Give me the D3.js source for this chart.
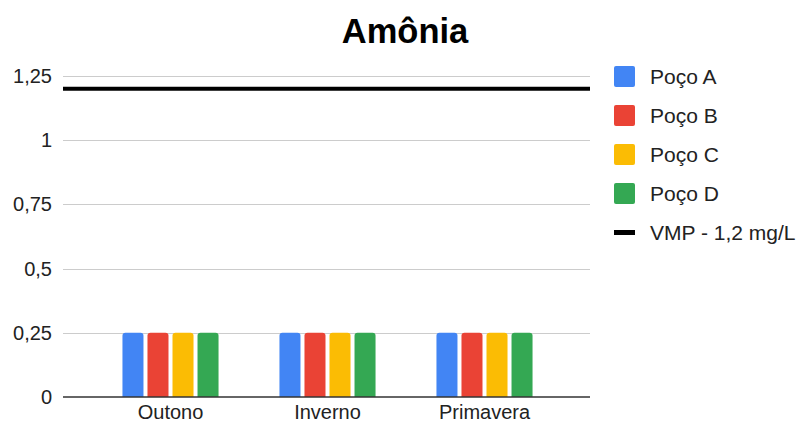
<!DOCTYPE html>
<html>
<head>
<meta charset="utf-8">
<script src="https://cdn.jsdelivr.net/npm/d3@7"></script>
<style>
  html, body { margin: 0; padding: 0; background: #fff; }
  svg text { font-family: "Liberation Sans", Arial, sans-serif; fill: #222; }
</style>
</head>
<body>
<svg id="chart" width="801" height="423"></svg>
<script>
// Ammonia concentration per well and season
const seasons = ["Outono", "Inverno", "Primavera"];
const wells = ["Poço A", "Poço B", "Poço C", "Poço D"];
const wellColors = ["#4285F4", "#EA4335", "#FBBC04", "#34A853"];
const pocoA = [0.25, 0.25, 0.25];
const pocoB = [0.25, 0.25, 0.25];
const pocoC = [0.25, 0.25, 0.25];
const pocoD = [0.25, 0.25, 0.25];
const vmpValue = 1.2;
const vmpLabel = "VMP - 1,2 mg/L";
const yTicks = [0, 0.25, 0.5, 0.75, 1, 1.25];
const yTickLabels = ["0", "0,25", "0,5", "0,75", "1", "1,25"];
const title = "Amônia";

const series = [pocoA, pocoB, pocoC, pocoD];

const svg = d3.select("#chart");
const plotLeft = 63, plotRight = 590, plotTop = 76, plotBottom = 397;

const y = d3.scaleLinear().domain([0, 1.25]).range([plotBottom, plotTop]);
const x0 = d3.scaleBand().domain(seasons).range([92, 563]).paddingInner(0).paddingOuter(0);
const x1 = d3.scaleBand().domain(wells).range([x0.bandwidth() * 0.194, x0.bandwidth() * 0.806]).paddingInner(0.16);

// Title
svg.append("text")
  .attr("x", 405).attr("y", 43)
  .attr("text-anchor", "middle")
  .style("font-size", "34.5px").style("font-weight", "bold").style("fill", "#000")
  .text(title);

// Gridlines
svg.append("g").selectAll("line")
  .data(yTicks.slice(1))
  .join("line")
  .attr("x1", plotLeft).attr("x2", plotRight)
  .attr("y1", d => Math.round(y(d)) + 0.5).attr("y2", d => Math.round(y(d)) + 0.5)
  .attr("stroke", "#cccccc").attr("stroke-width", 1);

// Y axis labels
const yAxis = d3.axisLeft(y).tickValues(yTicks)
  .tickFormat((d, i) => yTickLabels[i]).tickSize(0).tickPadding(0);
const yg = svg.append("g").attr("transform", `translate(${52},0)`).call(yAxis);
yg.select(".domain").remove();
yg.selectAll("text").style("font-size", "20px").style("fill", "#222").attr("font-family", null);

// Bars with rounded tops
function barPath(x, w, yTop, yBase, r) {
  r = Math.min(r, w / 2, (yBase - yTop));
  return `M${x},${yBase}V${yTop + r}Q${x},${yTop} ${x + r},${yTop}H${x + w - r}Q${x + w},${yTop} ${x + w},${yTop + r}V${yBase}Z`;
}
const groups = svg.append("g").selectAll("g")
  .data(seasons)
  .join("g")
  .attr("transform", d => `translate(${x0(d)},0)`);
groups.selectAll("path")
  .data((d, i) => wells.map((w, j) => ({ well: w, value: series[j][i], color: wellColors[j] })))
  .join("path")
  .attr("d", d => barPath(x1(d.well), x1.bandwidth(), y(d.value), y(0), 3))
  .attr("fill", d => d.color);

// Baseline
svg.append("line")
  .attr("x1", plotLeft).attr("x2", plotRight)
  .attr("y1", y(0)).attr("y2", y(0))
  .attr("stroke", "#333").attr("stroke-width", 1.3);

// VMP reference line
svg.append("line")
  .attr("x1", plotLeft).attr("x2", plotRight)
  .attr("y1", y(vmpValue)).attr("y2", y(vmpValue))
  .attr("stroke", "#000").attr("stroke-width", 4);

// X axis labels
const xAxis = d3.axisBottom(x0).tickSize(0).tickPadding(0);
const xg = svg.append("g").attr("transform", `translate(0,${404.5})`).call(xAxis);
xg.select(".domain").remove();
xg.selectAll("text").style("font-size", "20px").style("fill", "#222").attr("font-family", null);

// Legend
const legend = svg.append("g").attr("transform", "translate(614,76.5)");
const items = wells.map((w, i) => ({ label: w, color: wellColors[i], type: "box" }))
  .concat([{ label: vmpLabel, color: "#000", type: "line" }]);
const li = legend.selectAll("g").data(items).join("g")
  .attr("transform", (d, i) => `translate(0,${i * 39})`);
li.filter(d => d.type === "box").append("rect")
  .attr("x", 0).attr("y", -10.5).attr("width", 21).attr("height", 21).attr("rx", 2)
  .attr("fill", d => d.color);
li.filter(d => d.type === "line").append("rect")
  .attr("x", 0).attr("y", -2.5).attr("width", 21).attr("height", 5)
  .attr("fill", d => d.color);
li.append("text")
  .attr("x", 36).attr("y", 0).attr("dy", "0.36em")
  .style("font-size", "21px").style("fill", "#222")
  .text(d => d.label);
</script>
</body>
</html>
